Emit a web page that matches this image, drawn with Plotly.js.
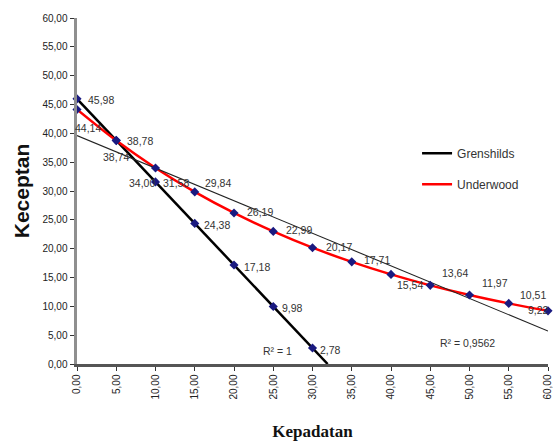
<!DOCTYPE html>
<html>
<head>
<meta charset="utf-8">
<script src="https://cdn.plot.ly/plotly-3.0.1.min.js"></script>
<style>
html,body{margin:0;padding:0;background:#fff;}
#chart{width:553px;height:445px;}
</style>
</head>
<body>
<div id="chart"></div>
<script>
// ---- data ----
var greenDensity = [0, 5, 10, 15, 20, 25, 30];
var greenSpeed = [45.98, 38.78, 31.58, 24.38, 17.18, 9.98, 2.78];
var underDensity = [0, 5, 10, 15, 20, 25, 30, 35, 40, 45, 50, 55, 60];
var underSpeed = [44.14, 38.74, 34.00, 29.84, 26.19, 22.99, 20.17, 17.71, 15.54, 13.64, 11.97, 10.51, 9.22];
var seriesNames = ['Grenshilds', 'Underwood'];
var r2Labels = ['R² = 1', 'R² = 0,9562'];
var r2Pos = [[25.6, 2.2], [49.8, 3.6]];

// ---- label offsets (pixels: dx right, dy down) ----
var greenLabelOffset = [[23.5,0.7],[23.7,0.3],[20.3,1.2],[22.7,1.5],[22.5,1.8],[19.2,2],[18.3,1.6]];
var underLabelOffset = [[11,18.4],[-0.3,16],[-14,14.8],[23.7,-9.4],[26,-0.8],[25.9,-1.5],[26.3,-1],[25.7,-1.9],[19,10.7],[24.7,-12],[25.5,-12.2],[24.5,-8.3],[-9.7,-0.7]];

function linreg(xs, ys) {
  var n = xs.length, sx = 0, sy = 0;
  for (var i = 0; i < n; i++) { sx += xs[i]; sy += ys[i]; }
  var mx = sx / n, my = sy / n, sxy = 0, sxx = 0;
  for (var j = 0; j < n; j++) { sxy += (xs[j]-mx)*(ys[j]-my); sxx += (xs[j]-mx)*(xs[j]-mx); }
  var m = sxy / sxx;
  return {m: m, b: my - m*mx};
}
function fmt(v) { return v.toFixed(2).replace('.', ','); }

var gFit = linreg(greenDensity, greenSpeed);
var gEnd = -gFit.b / gFit.m;
var uFit = linreg(underDensity, underSpeed);
var uMax = underDensity[underDensity.length - 1];

var markerStyle = {symbol: 'diamond', size: 7, color: '#1a1a80'};

var traces = [
  { // Greenshields line (linear trend, extended to zero speed)
    x: [0, gEnd], y: [gFit.b, 0], mode: 'lines', name: seriesNames[0],
    legendgroup: 'g', line: {color: '#000000', width: 2.5}, hoverinfo: 'skip'
  },
  { // Underwood series line
    x: underDensity, y: underSpeed, mode: 'lines', name: seriesNames[1],
    legendgroup: 'u', line: {color: '#ff0000', width: 2.5, shape: 'spline'}
  },
  { // Underwood linear trend
    x: [0, uMax], y: [uFit.b, uFit.b + uFit.m*uMax], mode: 'lines', showlegend: false,
    line: {color: '#222222', width: 1.1}, hoverinfo: 'skip'
  },
  {
    x: greenDensity, y: greenSpeed, mode: 'markers', showlegend: false,
    marker: markerStyle, cliponaxis: false
  },
  {
    x: underDensity, y: underSpeed, mode: 'markers', showlegend: false,
    marker: markerStyle, cliponaxis: false
  }
];

var annotations = [];
var labFont = {family: 'Liberation Sans, Arial, sans-serif', size: 10.5, color: '#333333'};
greenDensity.forEach(function(x, i) {
  annotations.push({x: x, y: greenSpeed[i], xref: 'x', yref: 'y', text: fmt(greenSpeed[i]),
    showarrow: false, xanchor: 'center', yanchor: 'middle',
    xshift: greenLabelOffset[i][0], yshift: -greenLabelOffset[i][1], font: labFont});
});
underDensity.forEach(function(x, i) {
  annotations.push({x: x, y: underSpeed[i], xref: 'x', yref: 'y', text: fmt(underSpeed[i]),
    showarrow: false, xanchor: 'center', yanchor: 'middle',
    xshift: underLabelOffset[i][0], yshift: -underLabelOffset[i][1], font: labFont});
});
r2Labels.forEach(function(t, i) {
  annotations.push({x: r2Pos[i][0], y: r2Pos[i][1], xref: 'x', yref: 'y', text: t,
    showarrow: false, xanchor: 'center', yanchor: 'middle', font: labFont});
});

var tickFont = {family: 'Liberation Sans, Arial, sans-serif', size: 10, color: '#222222'};

var layout = {
  width: 553, height: 445,
  margin: {l: 77, r: 5, t: 18, b: 81},
  paper_bgcolor: '#ffffff', plot_bgcolor: '#ffffff',
  separators: ',.',
  showlegend: true,
  legend: {x: 0.722, y: 0.651, xanchor: 'left', yanchor: 'top', bgcolor: 'rgba(0,0,0,0)',
    traceorder: 'grouped', tracegroupgap: 12, itemwidth: 30,
    font: {family: 'Liberation Sans, Arial, sans-serif', size: 12, color: '#333333'}},
  xaxis: {
    range: [0, 60], dtick: 5, tick0: 0, tickformat: '.2f', tickangle: -90,
    ticklabeloverflow: 'allow',
    showgrid: false, zeroline: false, showline: true, linecolor: '#555555', linewidth: 2.5,
    ticks: 'outside', ticklen: 4, tickcolor: '#333333', tickfont: tickFont,
    title: {text: 'Kepadatan', standoff: 27,
      font: {family: 'Liberation Serif, Times New Roman, serif', size: 17, color: '#111111', weight: 'bold'}}
  },
  yaxis: {
    range: [0, 60], dtick: 5, tick0: 0, tickformat: '.2f',
    showgrid: false, zeroline: false, showline: true, linecolor: '#8f8f8f', linewidth: 3.5,
    ticks: 'outside', ticklen: 4, tickcolor: '#333333', tickfont: tickFont,
    title: {text: '<b>Keceptan</b>', standoff: 8,
      font: {family: 'Liberation Sans, Arial, sans-serif', size: 21, color: '#111111'}}
  },
  annotations: annotations
};

Plotly.newPlot('chart', traces, layout, {displayModeBar: false, staticPlot: true});
</script>
</body>
</html>
